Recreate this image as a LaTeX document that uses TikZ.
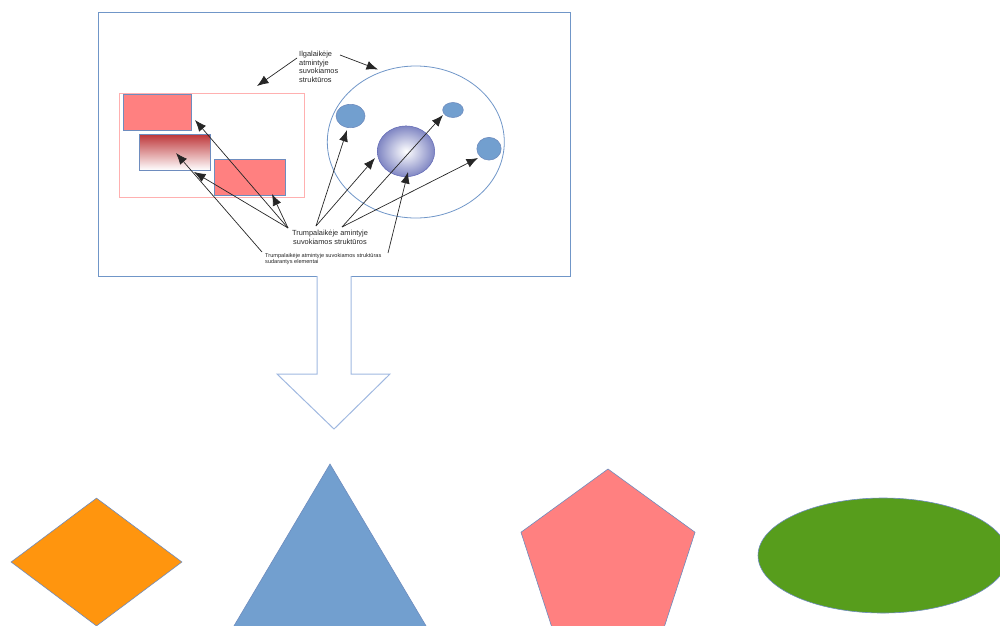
\documentclass[tikz,border=0pt]{standalone}
\usepackage{fontspec}
\setmainfont{Liberation Sans}
\usetikzlibrary{shapes.geometric,arrows.meta}
\definecolor{boxblue}{RGB}{112,150,200}
\definecolor{arrowblue}{RGB}{160,184,224}
\definecolor{shapeblue}{RGB}{114,159,207}
\definecolor{pinkfill}{RGB}{255,128,128}
\definecolor{pinkline}{RGB}{255,176,176}
\definecolor{edgeblue}{RGB}{110,140,190}
\definecolor{orangefill}{RGB}{255,149,14}
\definecolor{greenfill}{RGB}{87,157,28}
\definecolor{darkred}{RGB}{190,55,58}
\definecolor{dotblue}{RGB}{96,104,180}
\tikzset{
  arr/.style={draw=black!85, line width=0.7pt, -{Latex[length=11.5pt,width=9pt]}},
  pinkbox/.style={draw=edgeblue, line width=0.8pt, fill=pinkfill, inner sep=0, rectangle},
  blob/.style={ellipse, draw=edgeblue, line width=0.6pt, fill=shapeblue, inner sep=0},
  lbl/.style={inner sep=0, font=\fontsize{7.4}{8.7}\selectfont, text=black!85},
  tiny/.style={inner sep=0, font=\fontsize{5.6}{6.3}\selectfont, text=black!85, align=left},
  bigshape/.style={draw=edgeblue, line width=0.6pt, inner sep=0}
}
\begin{document}
\begin{tikzpicture}[x=1pt,y=-1pt]
\useasboundingbox (0,0) rectangle (1000,625);
\clip (0,0) rectangle (1000,625);
% outer box with gap for arrow
\draw[boxblue, line width=1pt] (317,276) -- (98,276) -- (98,12) -- (570,12) -- (570,276) -- (351,276);
% big block arrow
\draw[arrowblue, line width=1pt, line join=miter] (317,276) -- (317,374) -- (277,374) -- (334,429) -- (390,374) -- (351,374) -- (351,276);

% left group
\node[draw=pinkline, line width=0.8pt, minimum width=185, minimum height=104, inner sep=0] (lframe) at (211.5,145) {};
\node[pinkbox, minimum width=68, minimum height=36] (r1) at (157.3,112.3) {};
\node[draw=edgeblue, line width=0.8pt, inner sep=0, minimum width=70.6, minimum height=35.7, top color=darkred, bottom color=white] (r2) at (175,152.2) {};
\node[pinkbox, minimum width=70.7, minimum height=36] (r3) at (249.7,177) {};

% right group
\node[ellipse, draw=boxblue, line width=0.8pt, minimum width=177, minimum height=152, inner sep=0] (bigell) at (415.8,142) {};
\node[blob, minimum width=29, minimum height=23.4] (e1) at (350.5,116) {};
\node[blob, minimum width=20.6, minimum height=15] (e2) at (453,110) {};
\node[blob, minimum width=24.3, minimum height=22.7] (e3) at (489,148.7) {};
\node[ellipse, draw=dotblue, line width=0.5pt, minimum width=57.4, minimum height=50.7, inner sep=0, inner color=white, outer color=dotblue!80] (core) at (406,151.3) {};

% labels
\node[lbl, anchor=north west, align=left] (ltm) at (299,51) {Ilgalaikėje\\atmintyje\\suvokiamos\\struktūros};
\node[lbl, align=center] (stm) at (330,237) {Trumpalaikėje amintyje\\suvokiamos struktūros};
\node[tiny, anchor=north west] (elem) at (265,253) {Trumpalaikėje atmintyje suvokiamos struktūras\\sudarantys elementai};

% coordinates
\coordinate (a1s) at (297,58);  \coordinate (a1t) at (257,86);
\coordinate (a2s) at (340,55);  \coordinate (a2t) at (378,69.5);
\coordinate (ls) at (288,228);
\coordinate (tr1) at (195,120);
\coordinate (tr2b) at (194,172);
\coordinate (tr3) at (272,194);
\coordinate (es1) at (262,252); \coordinate (tr2i) at (176,153);
\coordinate (es2) at (388,253); \coordinate (tcore) at (408,172);
\coordinate (rs1) at (316,226);
\coordinate (te1) at (347,130);
\coordinate (tcl) at (375,158);
\coordinate (rs2) at (342,227);
\coordinate (te2) at (443,115);
\coordinate (te3) at (478,158);

\draw[arr] (a1s) -- (a1t);
\draw[arr] (a2s) -- (a2t);
\draw[arr] (ls) -- (tr1);
\draw[arr] (ls) -- (tr2b);
\draw[arr] (ls) -- (tr3);
\draw[arr] (es1) -- (tr2i);
\draw[arr] (es2) -- (tcore);
\draw[arr] (rs1) -- (te1);
\draw[arr] (rs1) -- (tcl);
\draw[arr] (rs2) -- (te2);
\draw[arr] (rs2) -- (te3);

% bottom shapes
\node[diamond, bigshape, fill=orangefill, minimum width=171, minimum height=128, aspect=1.336] (dia) at (96.5,562) {};
\path[bigshape, draw=edgeblue, fill=shapeblue] (330,464) -- (434.4,640) -- (225.6,640) -- cycle;
\node[regular polygon, regular polygon sides=5, bigshape, fill=pinkfill, minimum size=183] (pent) at (608,560.5) {};
\node[ellipse, bigshape, fill=greenfill, minimum width=250, minimum height=115] (gell) at (883,555.5) {};
\end{tikzpicture}
\end{document}
